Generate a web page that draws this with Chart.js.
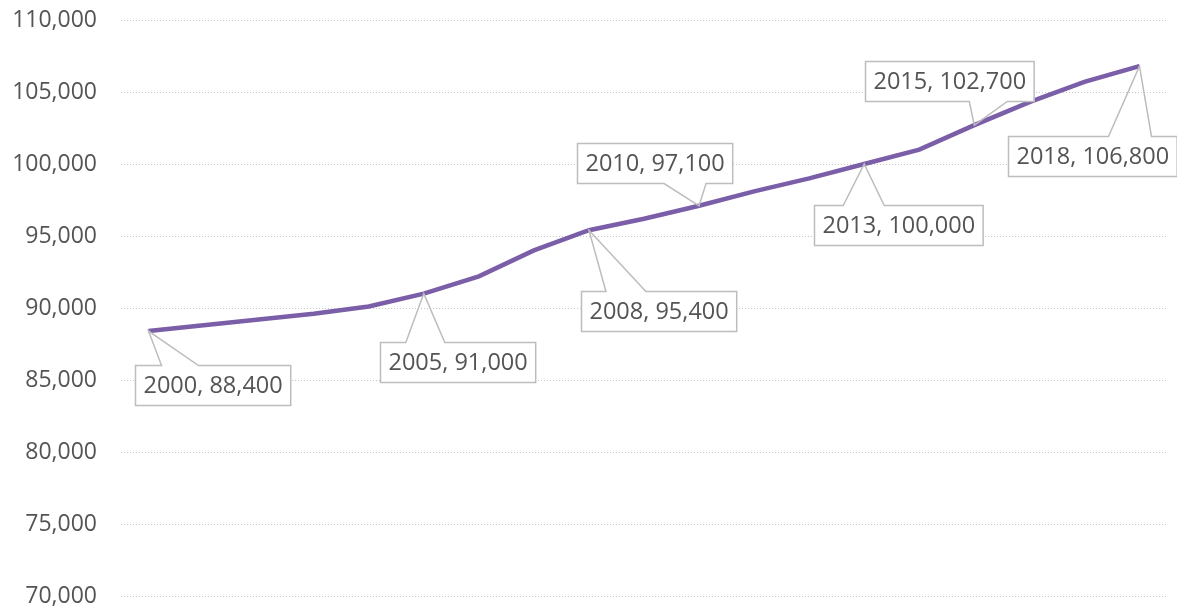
<!DOCTYPE html>
<html>
<head>
<meta charset="utf-8">
<script src="https://cdn.jsdelivr.net/npm/chart.js@4/dist/chart.umd.min.js"></script>
<style>
  html, body { margin: 0; padding: 0; background: #ffffff; }
  #wrap { width: 1177px; height: 611px; }
</style>
</head>
<body>
<div id="wrap"><canvas id="chart" width="1177" height="611"></canvas></div>
<script>
// Yearly totals, 2000-2018
const years = ['2000','2001','2002','2003','2004','2005','2006','2007','2008','2009',
               '2010','2011','2012','2013','2014','2015','2016','2017','2018'];
const totals = [88400, 88800, 89200, 89600, 90100, 91000, 92200, 94000, 95400, 96200,
                97100, 98100, 99000, 100000, 101000, 102700, 104300, 105700, 106800];
const yTickValues = [70000, 75000, 80000, 85000, 90000, 95000, 100000, 105000, 110000];
const calloutYears = ['2000', '2005', '2008', '2010', '2013', '2015', '2018'];

// Callout box placement relative to its point: box top-left offset, which edge
// carries the pointer, and where the pointer meets that edge.
const calloutPlacement = {
  '2000': { dx: -14,  dy: 34,  edge: 'top',    a: 13,  b: 50 },
  '2005': { dx: -44,  dy: 48,  edge: 'top',    a: -18, b: 21 },
  '2008': { dx: -8,   dy: 61,  edge: 'top',    a: 17,  b: 57 },
  '2010': { dx: -122, dy: -63, edge: 'bottom', a: -35, b: 7 },
  '2013': { dx: -50,  dy: 41,  edge: 'top',    a: -21, b: 20 },
  '2015': { dx: -109, dy: -64, edge: 'bottom', a: -5,  b: 33 },
  '2018': { dx: -131, dy: 70,  edge: 'top',    a: -31, b: 12 }
};

const FONT = '"Open Sans", "DejaVu Sans", sans-serif';
const TEXT = '#545454';
const fmt = v => v.toLocaleString('en-US');

const calloutPlugin = {
  id: 'callouts',
  afterDatasetsDraw(chart) {
    const ctx = chart.ctx;
    const meta = chart.getDatasetMeta(0);
    ctx.save();
    ctx.font = '23.5px ' + FONT;
    calloutYears.forEach(year => {
      const i = years.indexOf(year);
      const pt = meta.data[i];
      const spec = calloutPlacement[year];
      const text = year + ', ' + fmt(totals[i]);
      const pad = 8;
      const w = ctx.measureText(text).width + pad * 2;
      const h = 40;
      const px = pt.x, py = pt.y;
      const left = Math.round(px + spec.dx) + 0.5;
      const top = Math.round(py + spec.dy) + 0.5;
      const right = left + w, bottom = top + h;

      ctx.fillStyle = '#ffffff';
      ctx.fillRect(left, top, w, h);

      ctx.beginPath();
      if (spec.edge === 'top') {
        ctx.moveTo(left, top);
        ctx.lineTo(px + spec.a, top);
        ctx.lineTo(px, py);
        ctx.lineTo(px + spec.b, top);
        ctx.lineTo(right, top);
        ctx.lineTo(right, bottom);
        ctx.lineTo(left, bottom);
      } else {
        ctx.moveTo(left, bottom);
        ctx.lineTo(px + spec.a, bottom);
        ctx.lineTo(px, py);
        ctx.lineTo(px + spec.b, bottom);
        ctx.lineTo(right, bottom);
        ctx.lineTo(right, top);
        ctx.lineTo(left, top);
      }
      ctx.closePath();
      ctx.strokeStyle = '#bdbdbd';
      ctx.lineWidth = 1.5;
      ctx.lineJoin = 'miter';
      ctx.stroke();

      ctx.fillStyle = TEXT;
      ctx.textAlign = 'left';
      ctx.textBaseline = 'middle';
      ctx.fillText(text, left + pad, top + h / 2 + 1);
    });
    ctx.restore();
  }
};

new Chart(document.getElementById('chart'), {
  type: 'line',
  data: {
    labels: years,
    datasets: [{
      data: totals,
      borderColor: '#7b5ea8',
      borderWidth: 4.5,
      pointRadius: 0,
      tension: 0,
      fill: false
    }]
  },
  options: {
    responsive: false,
    animation: false,
    layout: { autoPadding: false, padding: { top: 20, bottom: 15, left: 0, right: 10 } },
    plugins: { legend: { display: false }, tooltip: { enabled: false } },
    scales: {
      x: { type: 'category', display: false, offset: true },
      y: {
        min: 70000,
        max: 110000,
        afterFit(scale) {
          scale.width = 121;
          scale.paddingTop = 0;
          scale.paddingBottom = 0;
        },
        afterBuildTicks(scale) { scale.ticks = yTickValues.map(v => ({ value: v })); },
        ticks: {
          padding: 24,
          color: TEXT,
          font: { family: FONT, size: 23 },
          callback: v => fmt(v)
        },
        grid: { color: '#c6c6c6', lineWidth: 1, drawTicks: false },
        border: { display: false, dash: [1, 2] }
      }
    }
  },
  plugins: [calloutPlugin]
});
</script>
</body>
</html>
